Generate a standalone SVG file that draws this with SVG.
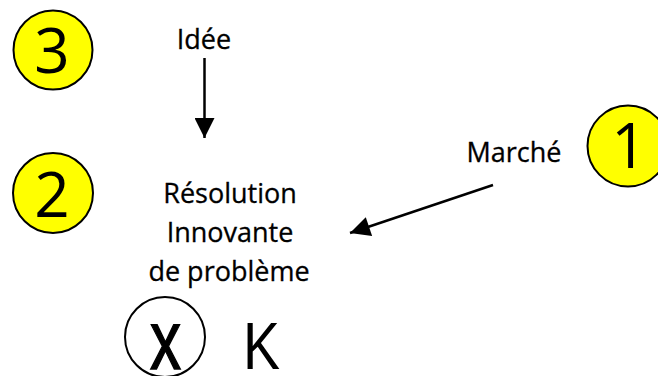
<svg xmlns="http://www.w3.org/2000/svg" width="658" height="376" viewBox="0 0 658 376">
<style>
.badge{fill:#ffff00;stroke:#000;stroke-width:2}
.num{font-family:"Open Sans","DejaVu Sans",sans-serif;font-size:62px;fill:#000;text-anchor:middle}
.lbl{font-family:"Open Sans","DejaVu Sans",sans-serif;font-size:27px;fill:#000;text-anchor:middle;stroke:#000;stroke-width:0.3}
.big{font-family:"Liberation Sans",Arial,sans-serif;fill:#000}
.conn{stroke:#000;stroke-width:2.5;fill:none}
</style>
<defs>
<marker id="ah" viewBox="0 0 10 10" refX="10" refY="5" markerUnits="userSpaceOnUse" markerWidth="22" markerHeight="20" orient="auto">
<path d="M0,0 L10,5 L0,10 z" fill="#000"/>
</marker>
</defs>
<rect width="658" height="376" fill="#fff"/>
<g id="badge3"><circle class="badge" cx="53" cy="50" r="39.5"/><text class="num" x="52" y="73">3</text></g>
<g id="badge2"><circle class="badge" cx="53" cy="193" r="40"/><text class="num" x="52" y="217">2</text></g>
<g id="badge1"><circle class="badge" cx="628" cy="146" r="40.5"/><text class="num" x="629" y="168">1</text></g>
<g id="idee"><text class="lbl" x="204" y="49" font-size="26">Idée</text></g>
<g id="marche"><text class="lbl" x="514" y="162">Marché</text></g>
<g id="resolution"><text class="lbl" x="230" y="203">Résolution</text><text class="lbl" x="230" y="242">Innovante</text><text class="lbl" x="229" y="281">de problème</text></g>
<g id="xnode"><circle cx="165" cy="337" r="40" fill="none" stroke="#000" stroke-width="2"/><text class="big" x="150" y="369" font-size="84" stroke="#000" stroke-width="1.5" textLength="31" lengthAdjust="spacingAndGlyphs">x</text></g>
<g id="knode"><text class="big" x="243" y="369" font-size="67" textLength="37" lengthAdjust="spacingAndGlyphs">K</text></g>
<g id="connectors">
<line class="conn" x1="204.5" y1="58" x2="204.5" y2="138" marker-end="url(#ah)"/>
<line class="conn" x1="493" y1="185" x2="350" y2="233" marker-end="url(#ah)"/>
</g>
</svg>
